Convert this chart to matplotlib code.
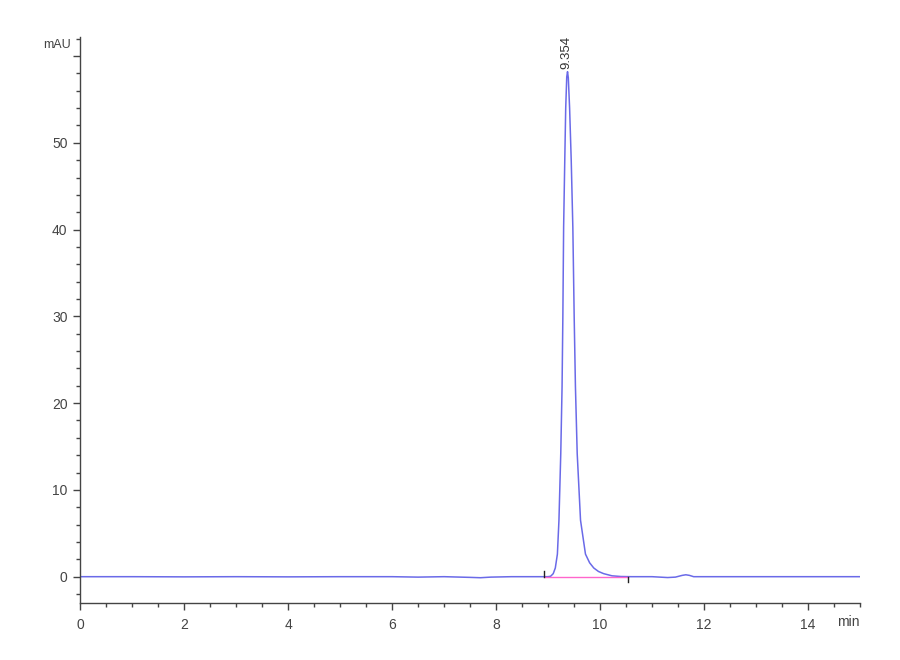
import matplotlib
matplotlib.use("Agg")
import matplotlib.pyplot as plt
from matplotlib.ticker import MultipleLocator, FixedLocator

# Chromatogram trace (time in min, signal in mAU)
time_min = [0.0, 1.0, 2.0, 3.0, 4.0, 5.0, 6.0, 6.5, 7.0, 7.5, 7.7, 7.9, 8.3, 8.8,
            9.00, 9.05, 9.10, 9.14, 9.18, 9.21, 9.245, 9.27, 9.285, 9.30, 9.322,
            9.34, 9.36, 9.375, 9.39, 9.415, 9.446, 9.477, 9.503, 9.527, 9.561,
            9.625, 9.72, 9.80, 9.88, 9.97, 10.07, 10.23, 10.4, 10.6, 11.0,
            11.3, 11.45, 11.58, 11.65, 11.72, 11.8, 12.5, 13.5, 15.0]
signal_mau = [0.0, 0.0, -0.02, 0.0, -0.02, 0.0, 0.0, -0.05, 0.0, -0.08, -0.12, -0.05, 0.0, 0.0,
              0.0, 0.05, 0.35, 1.0, 2.6, 6.5, 14.2, 21.9, 29.9, 40.3, 48.0,
              54.0, 57.6, 58.2, 57.5, 54.0, 48.0, 40.3, 29.9, 21.9, 14.2,
              6.5, 2.6, 1.6, 1.0, 0.6, 0.35, 0.1, 0.02, 0.0, 0.0,
              -0.1, -0.05, 0.15, 0.22, 0.15, 0.0, 0.0, 0.0, 0.0]

peak_rt = 9.354
peak_label = "9.354"
peak_top = 58.2
integ_start = 8.93
integ_end = 10.54

plt.rcParams['font.family'] = ['Liberation Sans', 'DejaVu Sans']

fig = plt.figure(figsize=(9, 6.6), dpi=100)
ax = fig.add_axes([0.0889, 0.0864, 0.8667, 0.8576])

ax.plot(time_min, signal_mau, color='#6a6ae8', linewidth=1.1)
# integration baseline
ax.plot([integ_start, integ_end], [0, 0], color='#ff66cc', linewidth=1.0)
# integration start/end markers
ax.plot([integ_start, integ_start], [0, 0.7], color='#222222', linewidth=1.0)
ax.plot([integ_end, integ_end], [0, -0.6], color='#222222', linewidth=1.0)

ax.text(peak_rt, peak_top + 0.3, peak_label, rotation=90, ha='center', va='bottom',
        fontsize=9.5, color='#333333')

ax.set_xlim(0, 15)
ax.set_ylim(-3.03, 62.2)

for s in ['top', 'right']:
    ax.spines[s].set_visible(False)
for s in ['left', 'bottom']:
    ax.spines[s].set_color('#444444')
    ax.spines[s].set_linewidth(1.0)

ax.xaxis.set_major_locator(FixedLocator([0, 2, 4, 6, 8, 10, 12, 14]))
ax.xaxis.set_minor_locator(MultipleLocator(0.5))
ax.yaxis.set_major_locator(FixedLocator([0, 10, 20, 30, 40, 50, 60]))
ax.yaxis.set_minor_locator(MultipleLocator(2))
ax.set_yticklabels(['0', '10', '20', '30', '40', '50', ''])

ax.tick_params(axis='both', which='major', length=5, width=1, color='#444444',
               labelsize=10, labelcolor='#444444', direction='out')
ax.tick_params(axis='both', which='minor', length=3, width=1, color='#444444',
               direction='out')
ax.tick_params(axis='x', which='major', pad=6)
ax.tick_params(axis='y', which='major', pad=4)

ax.text(-0.012, 61.3, 'mAU', transform=ax.get_yaxis_transform(), ha='right',
        va='center', fontsize=9, color='#444444')
ax.text(15.0, -0.034, 'min', transform=ax.get_xaxis_transform(), ha='right',
        va='center', fontsize=10, color='#444444')

fig.savefig('out.png', dpi=100, facecolor='white')
